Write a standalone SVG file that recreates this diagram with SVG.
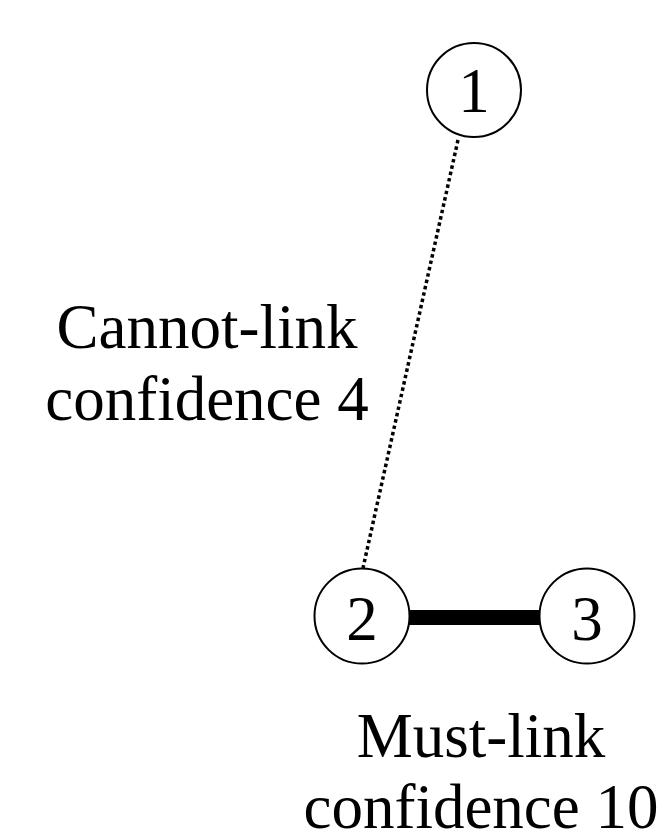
<svg xmlns="http://www.w3.org/2000/svg" width="664" height="830" viewBox="0 0 664 830">
<style>
.node circle{fill:#fff;stroke:#000;stroke-width:2}
text{font-family:"Liberation Serif","Times New Roman",serif;font-size:63px;fill:#000}
.num{text-anchor:middle}
.lbl{text-anchor:middle}
</style>
<rect width="664" height="830" fill="#fff"/>
<g id="connectors">
<line x1="458" y1="140" x2="363" y2="568" stroke="#000" stroke-width="3.5" stroke-dasharray="3.5 3"/>
<line x1="409" y1="617.5" x2="540" y2="617.5" stroke="#000" stroke-width="15"/>
</g>
<g id="node1" class="node">
<circle cx="474" cy="90" r="47"/>
<text class="num" x="474" y="112">1</text>
</g>
<g id="node2" class="node">
<circle cx="362" cy="616" r="47.5"/>
<text class="num" x="362" y="640">2</text>
</g>
<g id="node3" class="node">
<circle cx="587" cy="616" r="47.5"/>
<text class="num" x="587" y="640">3</text>
</g>
<g id="label-cannot">
<text class="lbl" x="207" y="348">Cannot-link</text>
<text class="lbl" x="207" y="420">confidence 4</text>
</g>
<g id="label-must">
<text class="lbl" x="481" y="757">Must-link</text>
<text class="lbl" x="481" y="828">confidence 10</text>
</g>
</svg>
